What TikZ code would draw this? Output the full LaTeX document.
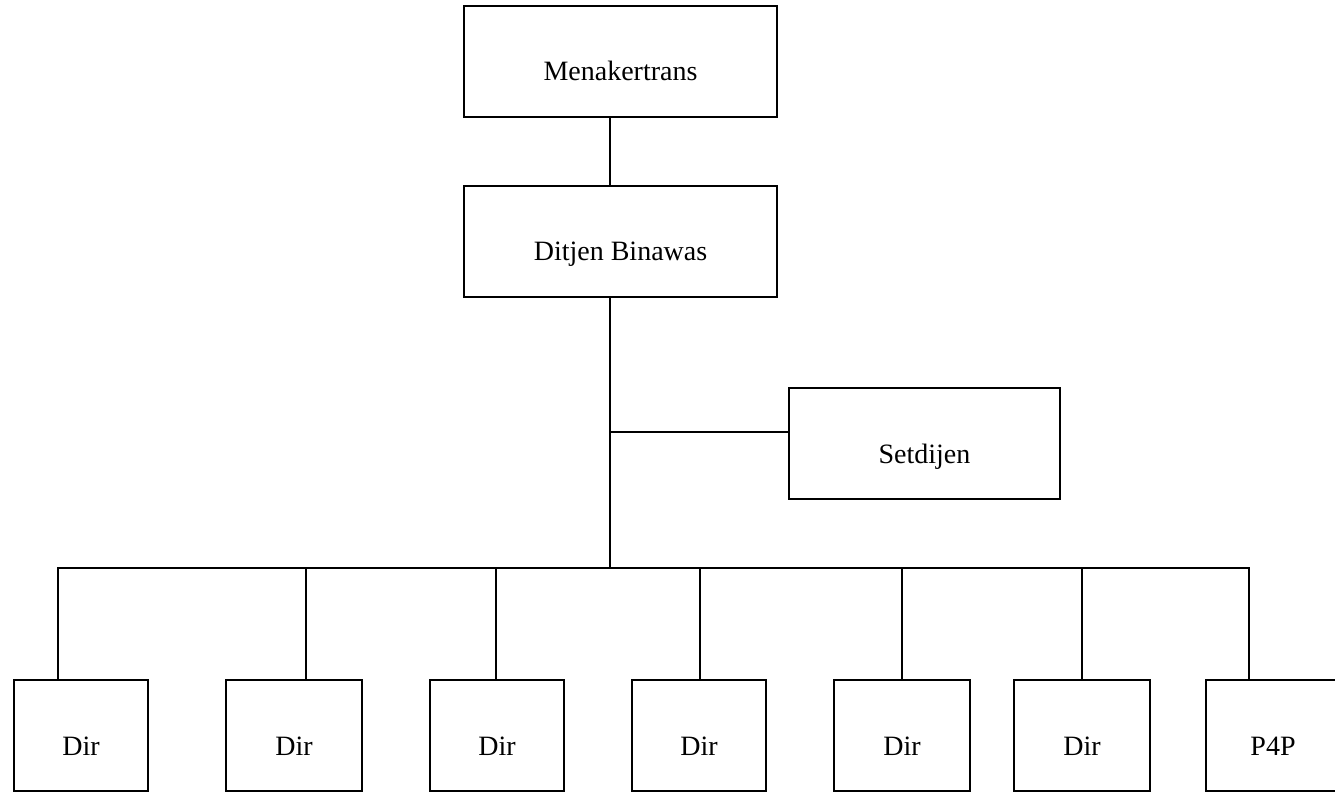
\documentclass[tikz,border=0pt]{standalone}
\usepackage{fontspec}
\setmainfont{Liberation Serif}
\begin{document}
\begin{tikzpicture}[x=0.75pt,y=-0.75pt,
  box/.style={draw, rectangle, line width=1.5pt, inner sep=0pt, minimum height=83.25pt},
  lbl/.style={anchor=base, inner sep=0pt, font=\fontsize{21}{25}\selectfont},
  conn/.style={line width=1.5pt}]
\useasboundingbox (0,0) rectangle (1335,792);
\clip (0,0) rectangle (1335,792);
% boxes
\node[box, minimum width=234.75pt] (M) at (620.5,61.5) {};
\node[box, minimum width=234.75pt] (D) at (620.5,241.5) {};
\node[box, minimum width=203.25pt] (S) at (924.5,443.5) {};
\node[box, minimum width=100.5pt] (B1) at (81,735.5) {};
\node[box, minimum width=102pt] (B2) at (294,735.5) {};
\node[box, minimum width=100.5pt] (B3) at (497,735.5) {};
\node[box, minimum width=100.5pt] (B4) at (699,735.5) {};
\node[box, minimum width=102pt] (B5) at (902,735.5) {};
\node[box, minimum width=102pt] (B6) at (1082,735.5) {};
\node[box, minimum width=100.5pt] (B7) at (1273,735.5) {};
% labels
\node[lbl] (tM) at (620.5,80) {Menakertrans};
\node[lbl] (tD) at (620.5,260) {Ditjen Binawas};
\node[lbl] (tS) at (924.5,463) {Setdijen};
\node[lbl] (t1) at (81,755) {Dir};
\node[lbl] (t2) at (294,755) {Dir};
\node[lbl] (t3) at (497,755) {Dir};
\node[lbl] (t4) at (699,755) {Dir};
\node[lbl] (t5) at (902,755) {Dir};
\node[lbl] (t6) at (1082,755) {Dir};
\node[lbl] (t7) at (1273,755) {P4P};
% junctions
\coordinate (trunk) at (610,568);
\coordinate (st) at (610,432);
\coordinate (j1) at (58,568);
\coordinate (j2) at (306,568);
\coordinate (j3) at (496,568);
\coordinate (j4) at (700,568);
\coordinate (j5) at (902,568);
\coordinate (j6) at (1082,568);
\coordinate (j7) at (1249,568);
% connectors
\draw[conn] (M.south -| trunk) -- (D.north -| trunk);
\draw[conn] (D.south -| trunk) -- (trunk);
\draw[conn] (st) -- (st -| S.west);
\draw[conn, line cap=rect] (j1) -- (j7);
\draw[conn] (j1) -- (B1.north -| j1);
\draw[conn] (j2) -- (B2.north -| j2);
\draw[conn] (j3) -- (B3.north -| j3);
\draw[conn] (j4) -- (B4.north -| j4);
\draw[conn] (j5) -- (B5.north -| j5);
\draw[conn] (j6) -- (B6.north -| j6);
\draw[conn] (j7) -- (B7.north -| j7);
\end{tikzpicture}
\end{document}
